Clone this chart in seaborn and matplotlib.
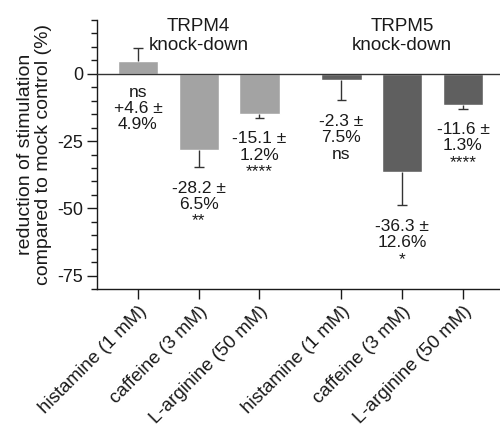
import matplotlib
matplotlib.use("Agg")
import matplotlib.pyplot as plt
import seaborn as sns
import numpy as np
import pandas as pd
from matplotlib.ticker import MultipleLocator

# ---- data ----
tick_labels = ["histamine (1 mM)", "caffeine (3 mM)", "L-arginine (50 mM)",
               "histamine (1 mM)", "caffeine (3 mM)", "L-arginine (50 mM)"]
groups = ["TRPM4", "TRPM4", "TRPM4", "TRPM5", "TRPM5", "TRPM5"]
values = [4.6, -28.2, -15.1, -2.3, -36.3, -11.6]
errors = [4.9, 6.5, 1.2, 7.5, 12.6, 1.3]
significance = ["ns", "**", "****", "ns", "*", "****"]
sig_on_top = [True, False, False, False, False, False]
group_titles = ["TRPM4\nknock-down", "TRPM5\nknock-down"]

# layout positions (non-uniform spacing between groups)
positions = [0, 1, 2, 3.35, 4.35, 5.35]

sns.set_theme(style="ticks")
plt.rcParams['font.family'] = ['Liberation Sans', 'DejaVu Sans']
plt.rcParams['axes.unicode_minus'] = False

df = pd.DataFrame({"pos": positions, "value": values, "group": groups})

fig = plt.figure(figsize=(5.0, 4.24), dpi=100)
ax = fig.add_axes([0.194, 0.318, 0.806, 0.635])

palette = {"TRPM4": "#a3a3a3", "TRPM5": "#5f5f5f"}
sns.barplot(data=df, x="pos", y="value", hue="group", palette=palette,
            native_scale=True, width=0.66, dodge=False, legend=False,
            saturation=1, errorbar=None, ax=ax, zorder=2)

# one-sided error bars with caps
vals = np.array(values)
errs = np.array(errors)
ends = vals + np.sign(vals) * errs
xs = np.array(positions)
ax.vlines(xs, vals, ends, color="#333333", lw=1.0, zorder=3)
ax.hlines(ends, xs - 0.08, xs + 0.08, color="#333333", lw=1.0, zorder=3)

# zero line
ax.axhline(0, color="#333333", lw=1.0, zorder=4)

# annotations
for x, v, e, end, s, top in zip(xs, vals, errs, ends, significance, sig_on_top):
    sign = "+" if v > 0 else ""
    txt = f"{sign}{v:.1f} \u00b1\n{e:.1f}%"
    txt = f"{s}\n{txt}" if top else f"{txt}\n{s}"
    y0 = min(0, end) - (4.0 if top else 5.0)
    ax.text(x, y0, txt, ha="center", va="top", fontsize=12.5,
            linespacing=1.12, color="#1a1a1a", zorder=5)

# group titles
ax.text(positions[1], 14.2, group_titles[0], ha="center", va="center",
        fontsize=13.5, linespacing=1.15, color="#1a1a1a")
ax.text(positions[4], 14.2, group_titles[1], ha="center", va="center",
        fontsize=13.5, linespacing=1.15, color="#1a1a1a")

ax.set_xlim(-0.675, 5.96)
ax.set_ylim(-80, 20)
ax.yaxis.set_minor_locator(MultipleLocator(5))
ax.set_yticks([0, -25, -50, -75])
ax.set_xticks(positions)
ax.set_xticklabels(tick_labels, rotation=45, ha="right", rotation_mode="anchor")
ax.set_xlabel("")
ax.set_ylabel("reduction of stimulation\ncompared to mock control (%)",
              fontsize=14, linespacing=1.05, color="#1a1a1a", labelpad=4)

for side in ["top", "right"]:
    ax.spines[side].set_visible(False)
for side in ["left", "bottom"]:
    ax.spines[side].set_color("#1a1a1a")
    ax.spines[side].set_linewidth(1.0)

ax.tick_params(axis="both", which="major", length=7, width=1.0,
               color="#1a1a1a", labelcolor="#1a1a1a")
ax.tick_params(axis="y", which="major", labelsize=13, pad=3)
ax.tick_params(axis="x", which="major", labelsize=13.5, pad=3)
ax.tick_params(axis="y", which="minor", length=4.5, width=1.0, color="#1a1a1a")

fig.savefig("out.png", dpi=100)
